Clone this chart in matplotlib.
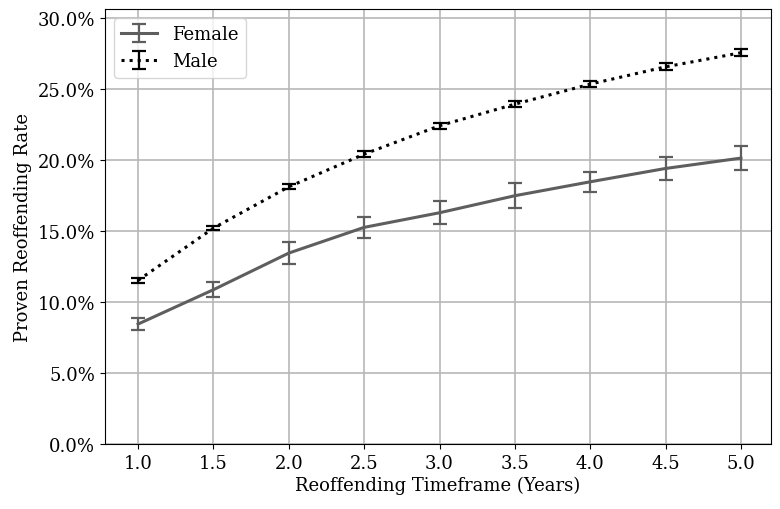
import matplotlib
matplotlib.use("Agg")
import matplotlib.pyplot as plt
from matplotlib.ticker import PercentFormatter

years = [1.0, 1.5, 2.0, 2.5, 3.0, 3.5, 4.0, 4.5, 5.0]
female = [0.0845, 0.1087, 0.1345, 0.1526, 0.1629, 0.1749, 0.1847, 0.1941, 0.2014]
female_err = [0.0040, 0.0055, 0.0079, 0.0073, 0.0080, 0.0089, 0.0071, 0.0080, 0.0087]
male = [0.1153, 0.1521, 0.1812, 0.2042, 0.2242, 0.2394, 0.2535, 0.2657, 0.2756]
male_err = [0.0016, 0.0017, 0.0018, 0.0020, 0.0021, 0.0022, 0.0023, 0.0024, 0.0025]

plt.rcParams['font.family'] = ['DejaVu Serif']
fig = plt.figure(figsize=(7.8, 5.1), dpi=100)
ax = fig.add_axes([0.1346, 0.1275, 0.8539, 0.8525])

ax.errorbar(years, female, yerr=female_err, color='#5e5e5e', lw=2.2, capsize=5.3,
            capthick=1.6, elinewidth=1.6, label='Female')
ax.errorbar(years, male, yerr=male_err, color='black', lw=2.2, ls=':', capsize=5.3,
            capthick=1.6, elinewidth=1.6, label='Male')

ax.set_xlim(0.78, 5.2)
ax.set_ylim(0, 0.3063)
ax.set_xticks(years)
ax.set_xticklabels([f"{y:.1f}" for y in years])
ax.set_yticks([0, 0.05, 0.10, 0.15, 0.20, 0.25, 0.30])
ax.yaxis.set_major_formatter(PercentFormatter(1.0, decimals=1))
ax.grid(True, color='#b8b8b8', lw=1.2)
ax.set_axisbelow(True)
ax.tick_params(labelsize=13)
ax.set_xlabel('Reoffending Timeframe (Years)', fontsize=13, labelpad=3)
ax.set_ylabel('Proven Reoffending Rate', fontsize=13)
ax.legend(loc='upper left', fontsize=13)

fig.savefig('out.png', dpi=100)
